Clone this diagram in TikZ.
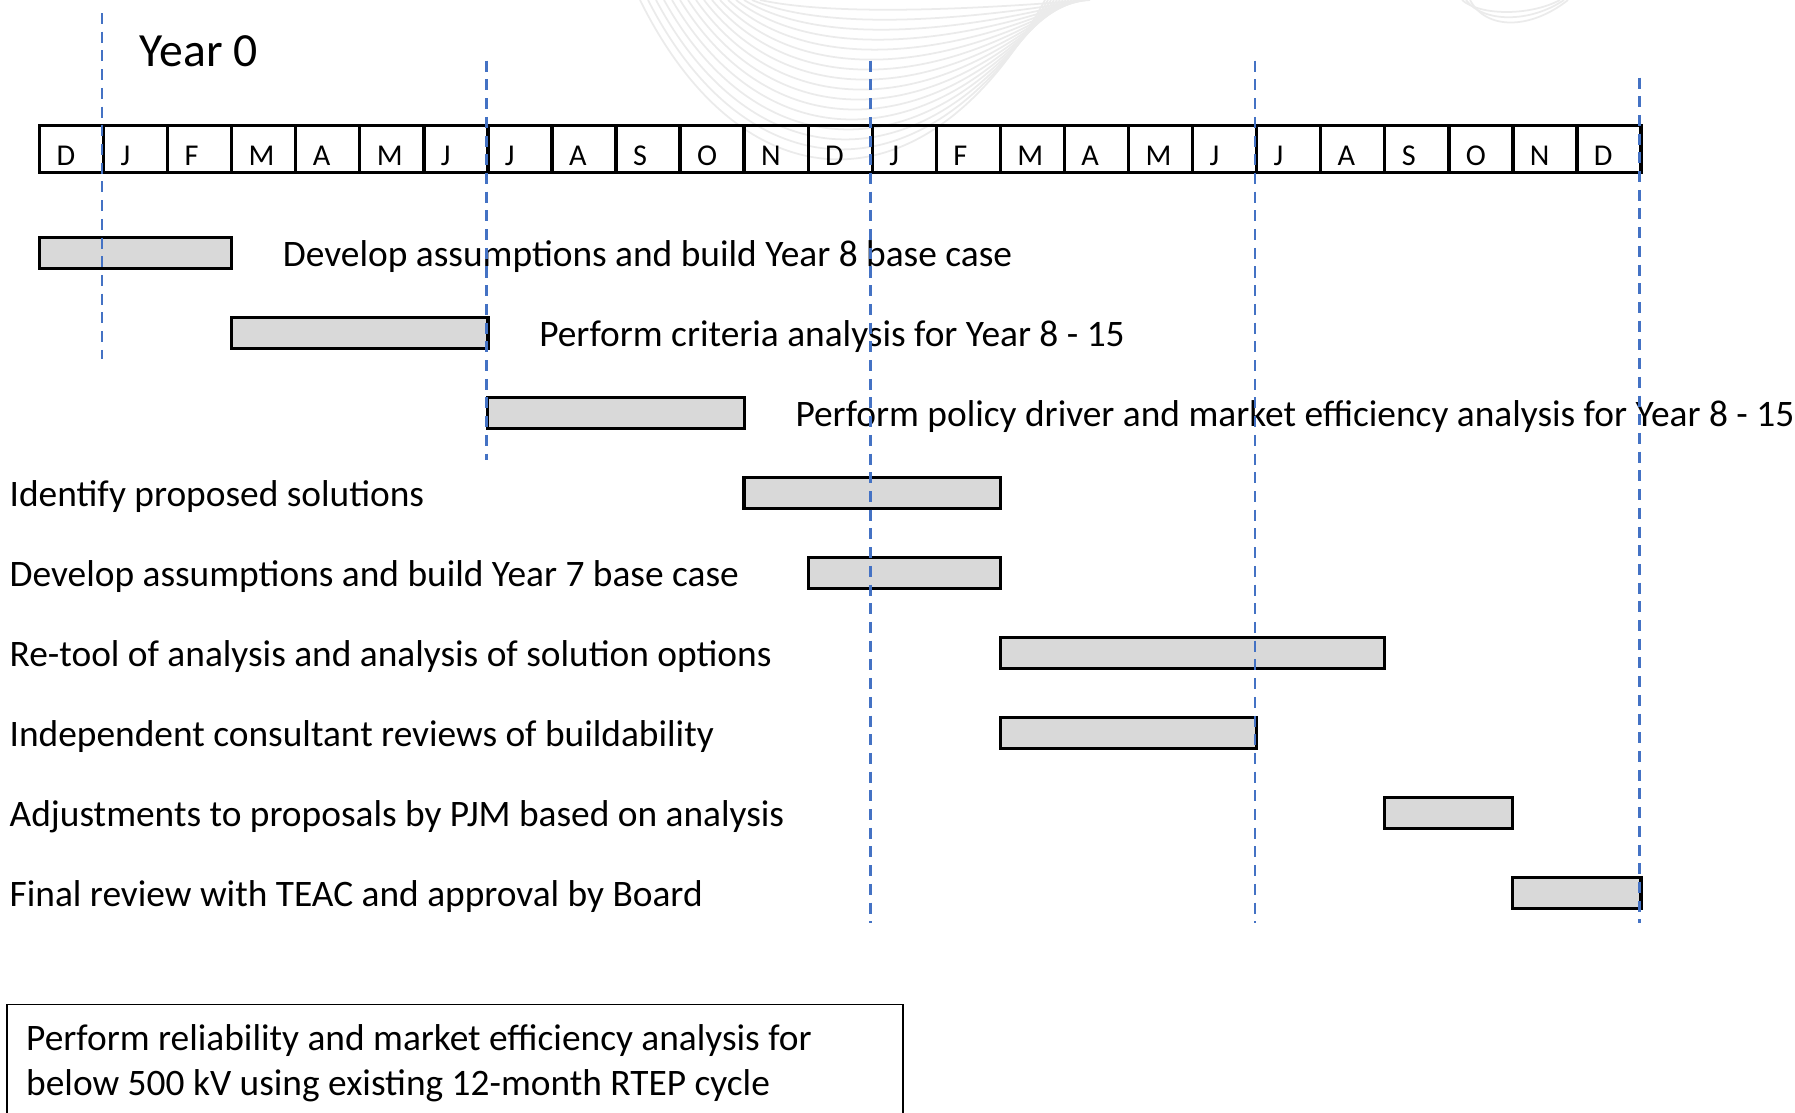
\documentclass[tikz,border=0pt]{standalone}
\usepackage{fontspec}
\setmainfont{Carlito}
\usepackage{xcolor}
\usetikzlibrary{positioning}
\definecolor{yrblue}{RGB}{68,114,196}
\definecolor{barfill}{RGB}{217,217,217}

\begin{document}
\begin{tikzpicture}[x=0.01cm, y=-0.01cm,
	wm/.style={gray!16, line width=0.5pt},
	mon/.style={draw, line width=0.95pt, minimum width=0.6406cm, minimum height=0.47cm, inner xsep=0.17cm, inner ysep=0pt, text width=0.30cm, align=left, text height=9.7pt, text depth=0pt, font=\fontsize{8.6}{10}\selectfont, anchor=west},
	bar/.style={draw, line width=0.9pt, fill=barfill, minimum height=0.31cm, inner sep=0pt, anchor=west},
	lbl/.style={inner sep=0pt, anchor=west, text height=9.4pt, text depth=2pt, font=\fontsize{10.63}{12.9}\selectfont},
	yr/.style={yrblue, line width=0.75pt, dash pattern=on 3.13pt off 2.19pt}]
	\useasboundingbox (0,0) rectangle (1795,1112);
	% Watermark
	\foreach \k in {0,...,15}
		\draw[wm] ({760-8*\k},0) .. controls ({820-5*\k},{13+13.3*\k}) and (930,{13+13.3*\k}) .. ({1090-3*\k},0);
	\foreach \k in {0,1,2}
		\draw[wm] ({1462+4*\k},0) .. controls ({1480+3*\k},{16+7*\k}) and (1530,{16+7*\k}) .. ({1560+4*\k},0);
	% Months
	\foreach \m [count=\i from 0] in {D,J,F,M,A,M,J,J,A,S,O,N,D,J,F,M,A,M,J,J,A,S,O,N,D}
		\node[mon] (m\i) at ({37.8+64.06*\i},148.7) {\m};
	\node[lbl, anchor=base west, text height=, text depth=, font=\fontsize{13.55}{16}\selectfont] (y0) at (139,66.7) {Year 0};
	% Bars
	\node[bar, minimum width=1.9218cm] (b1) at (37.8,253) {};
	\node[bar, minimum width=2.5624cm] (b2) at (229.98,333) {};
	\node[bar, minimum width=2.5624cm] (b3) at (486.22,413) {};
	\node[bar, minimum width=2.5624cm] (b4) at (742.46,493) {};
	\node[bar, minimum width=1.9218cm] (b5) at (806.52,573) {};
	\node[bar, minimum width=3.8436cm] (b6) at (998.7,653) {};
	\node[bar, minimum width=2.5624cm] (b7) at (998.7,733) {};
	\node[bar, minimum width=1.2812cm] (b8) at (1383.06,813) {};
	\node[bar, minimum width=1.2812cm] (b9) at (1511.18,893) {};
	% Labels
	\node[lbl, right=0.49cm of b1] (t1) {Develop assumptions and build Year 8 base case};
	\node[lbl, right=0.49cm of b2] (t2) {Perform criteria analysis for Year 8 - 15};
	\node[lbl, right=0.49cm of b3] (t3) {Perform policy driver and market efficiency analysis for Year 8 - 15};
	\node[lbl] (t4) at (9,493) {Identify proposed solutions};
	\node[lbl] (t5) at (9,573) {Develop assumptions and build Year 7 base case};
	\node[lbl] (t6) at (9,653) {Re-tool of analysis and analysis of solution options};
	\node[lbl] (t7) at (9,733) {Independent consultant reviews of buildability};
	\node[lbl] (t8) at (9,813) {Adjustments to proposals by PJM based on analysis};
	\node[lbl] (t9) at (9,893) {Final review with TEAC and approval by Board};
	% Note box
	\node[lbl, anchor=north west, text height=, text depth=, text width=9.5cm, align=left] (nb) at (25.5,1023.5) {\spaceskip=0pt\xspaceskip=0pt Perform reliability and market efficiency analysis for\\below 500 kV using existing 12-month RTEP cycle};
	\draw[line width=0.55pt] (7.3,1125) |- (903,1004.5) -- (903,1125);
	% Year lines
	\draw[yr] (101.86,13) -- (101.86,359);
	\draw[yr] (486.22,60.7) -- (486.22,460);
	\draw[yr] (870.58,60.7) -- (870.58,923);
	\draw[yr] (1254.94,60.7) -- (1254.94,923);
	\draw[yr] (1639.3,77.5) -- (1639.3,923);
\end{tikzpicture}
\end{document}
